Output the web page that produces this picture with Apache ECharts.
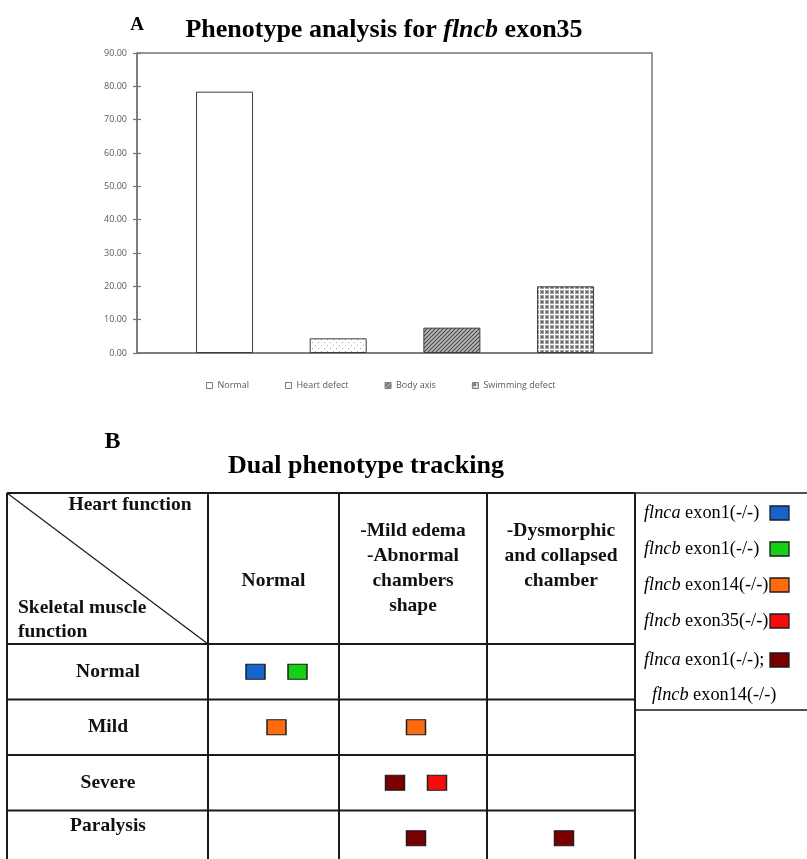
<!DOCTYPE html>
<html>
<head>
<meta charset="utf-8">
<script src="https://cdn.jsdelivr.net/npm/echarts@6/dist/echarts.min.js"></script>
<style>
  html, body { margin: 0; padding: 0; background: #ffffff; }
  #chart { width: 807px; height: 859px; }
</style>
</head>
<body>
<div id="chart"></div>
<script>
// ---- Panel A: phenotype distribution for flncb exon35 (percent of larvae) ----
const phenotypeNames = ['Normal', 'Heart defect', 'Body axis', 'Swimming defect'];
const phenotypePercent = [78.4, 4.4, 7.6, 20.0];
const percentAxis = { min: 0, max: 90, step: 10 };

// ---- Panel B: heart function vs skeletal muscle function per genotype ----
const heartLevels = ['Normal', '-Mild edema\n-Abnormal\nchambers\nshape', '-Dysmorphic\nand collapsed\nchamber'];
const muscleLevels = ['Normal', 'Mild', 'Severe', 'Paralysis'];
const genotypes = [
  'flnca exon1(-/-)',
  'flncb exon1(-/-)',
  'flncb exon14(-/-)',
  'flncb exon35(-/-)',
  'flnca exon1(-/-); flncb exon14(-/-)'
];
// each observation: [genotype index, heart level index, muscle level index]
const observations = [
  [0, 0, 0], [1, 0, 0],
  [2, 0, 1], [2, 1, 1],
  [4, 1, 2], [3, 1, 2],
  [4, 1, 3], [4, 2, 3]
];

// ---- styles ----
const genotypeColors = ['#1565cc', '#16cf16', '#ff6c10', '#f40c0c', '#780000'];
const serif = '"Liberation Serif", "Times New Roman", serif';
const sans = '"Open Sans", "Liberation Sans", sans-serif';
const frameColor = '#767676';
const ruleColor = '#1a1a1a';

function tile(w, h, paint) {
  const c = document.createElement('canvas');
  c.width = w; c.height = h;
  paint(c.getContext('2d'));
  return { image: c, repeat: 'repeat' };
}
const barFills = [
  '#ffffff',
  tile(6, 6, g => {
    g.fillStyle = '#ffffff'; g.fillRect(0, 0, 6, 6);
    g.fillStyle = '#a6a6a6'; g.fillRect(0, 0, 1, 1); g.fillRect(3, 3, 1, 1);
  }),
  tile(4, 4, g => {
    g.fillStyle = '#bdbdbd'; g.fillRect(0, 0, 4, 4);
    g.strokeStyle = '#4a4a4a'; g.lineWidth = 1.2; g.beginPath();
    g.moveTo(-1, 5); g.lineTo(5, -1);
    g.moveTo(3, 5); g.lineTo(5, 3);
    g.moveTo(-1, 1); g.lineTo(1, -1);
    g.stroke();
  }),
  tile(5, 5, g => {
    g.fillStyle = '#ffffff'; g.fillRect(0, 0, 5, 5);
    g.fillStyle = '#a4a4a4'; g.fillRect(0, 0, 4, 4);
    g.fillStyle = '#666666'; g.fillRect(1, 1, 2, 2);
  })
];

// ---- layout ----
const plot = { left: 137, top: 53, width: 515, height: 300 };
const barBand = { left: 167.7, width: 454.7 };
const table = { left: 7, top: 493, headH: 151, rowH: 55.5, labelW: 201, firstColW: 131, colW: 148, bottom: 880 };
const colX = [table.left, table.left + table.labelW];
colX.push(colX[1] + table.firstColW, colX[1] + table.firstColW + table.colW, colX[1] + table.firstColW + 2 * table.colW);
const bodyTop = table.top + table.headH;
const rowY = [table.top, bodyTop];
for (let i = 1; i < muscleLevels.length; i++) rowY.push(bodyTop + i * table.rowH);

// ---- series for panel A ----
const barSeries = phenotypeNames.map((name, i) => ({
  type: 'bar',
  name: name,
  xAxisIndex: 1,
  yAxisIndex: 2,
  stack: 'phenotype',
  barWidth: 57,
  silent: true,
  data: phenotypePercent.map((v, j) => (j === i ? v : '-')),
  itemStyle: { color: barFills[i], borderColor: '#3c3c3c', borderWidth: 1 }
}));

// ---- series for panel B: one scatter per genotype per table block ----
function cellSpread(o) {
  const mates = observations.filter(p => p[1] === o[1] && p[2] === o[2]);
  const k = mates.indexOf(o);
  return (k - (mates.length - 1) / 2) * 42 + 3;
}
const blocks = [[0], [1, 2]];
const tableSeries = [];
genotypes.forEach((g, gi) => {
  blocks.forEach((levels, b) => {
    const pts = observations.filter(o => o[0] === gi && levels.includes(o[1]));
    if (!pts.length) return;
    tableSeries.push({
      type: 'scatter',
      name: g,
      xAxisIndex: 2 + b,
      yAxisIndex: 3 + b,
      symbol: 'rect',
      symbolSize: [19, 15],
      silent: true,
      z: 5,
      itemStyle: { color: genotypeColors[gi], borderColor: '#1c1c1c', borderWidth: 1.3, opacity: 1 },
      data: pts.map(o => ({
        value: [heartLevels[o[1]], muscleLevels[o[2]]],
        symbolOffset: [cellSpread(o), 0]
      }))
    });
  });
});

// ---- genotype legend text ----
const legendRich = {
  i: { fontFamily: serif, fontSize: 18.3, fontStyle: 'italic', color: '#000', align: 'left' },
  r: { fontFamily: serif, fontSize: 18.3, color: '#000', align: 'left' },
  pad: { width: 8, fontFamily: serif, fontSize: 18.3, align: 'left' }
};
function geneLabel(part) {
  const sp = part.indexOf(' ');
  return '{i|' + part.slice(0, sp) + '}{r|' + part.slice(sp) + '}';
}

// ---- table rules ----
const rules = [];
colX.forEach(x => rules.push({ type: 'line', shape: { x1: x, y1: table.top, x2: x, y2: table.bottom } }));
rowY.forEach(y => rules.push({ type: 'line', shape: { x1: colX[0], y1: y, x2: colX[4], y2: y } }));
rules.push({ type: 'line', shape: { x1: colX[0], y1: table.top, x2: colX[1], y2: bodyTop } });
rules.forEach(r => { r.style = { stroke: ruleColor, lineWidth: r.shape.x1 !== r.shape.x2 && r.shape.y1 !== r.shape.y2 ? 1.2 : 2 }; r.silent = true; });

const headerFont = { fontFamily: serif, fontSize: 19.5, fontWeight: 'bold', fill: '#111' };

const option = {
  animation: false,
  backgroundColor: '#ffffff',
  grid: [
    { left: plot.left, top: plot.top, width: plot.width, height: plot.height, show: true, borderColor: frameColor, borderWidth: 1.5, containLabel: false, outerBoundsMode: 'none' },
    { left: barBand.left, top: plot.top, width: barBand.width, height: plot.height, containLabel: false, outerBoundsMode: 'none' },
    { left: colX[1], top: bodyTop, width: table.firstColW, height: table.rowH * muscleLevels.length, containLabel: false, outerBoundsMode: 'none' },
    { left: colX[2], top: bodyTop, width: 2 * table.colW, height: table.rowH * muscleLevels.length, containLabel: false, outerBoundsMode: 'none' }
  ],
  xAxis: [
    { gridIndex: 0, type: 'value', min: 0, max: 1, axisLine: { show: true, lineStyle: { color: frameColor, width: 1.5 } }, axisTick: { show: false }, axisLabel: { show: false }, splitLine: { show: false } },
    { gridIndex: 1, type: 'category', data: phenotypeNames, show: false },
    { gridIndex: 2, type: 'category', position: 'top', data: heartLevels.slice(0, 1) },
    { gridIndex: 3, type: 'category', position: 'top', data: heartLevels.slice(1) }
  ].map((ax, i) => i < 2 ? ax : Object.assign(ax, {
    axisLine: { show: false }, axisTick: { show: false }, splitLine: { show: false },
    axisLabel: {
      show: true, interval: 0, margin: 26, verticalAlign: 'bottom', align: 'center',
      fontFamily: serif, fontSize: 19.5, fontWeight: 'bold', color: '#111', lineHeight: 25,
      formatter: v => (v.split('\n').length < 4 ? v + '\n' : v)
    }
  })),
  yAxis: [
    {
      gridIndex: 0, type: 'value', min: percentAxis.min, max: percentAxis.max, interval: percentAxis.step, position: 'left',
      axisLine: { show: true, lineStyle: { color: frameColor, width: 1.5 } },
      axisTick: { show: true, length: 4, lineStyle: { color: frameColor, width: 1.2 } },
      axisLabel: { margin: 10, fontFamily: sans, fontSize: 9, color: '#595959', formatter: v => v.toFixed(2) },
      splitLine: { show: false }
    },
    {
      gridIndex: 0, type: 'value', min: percentAxis.min, max: percentAxis.max, interval: percentAxis.step, position: 'left',
      axisLine: { show: false }, axisLabel: { show: false }, splitLine: { show: false },
      axisTick: { show: true, inside: true, length: 4, lineStyle: { color: frameColor, width: 1.2 } }
    },
    { gridIndex: 1, type: 'value', min: percentAxis.min, max: percentAxis.max, show: false },
    {
      gridIndex: 2, type: 'category', inverse: true, data: muscleLevels,
      axisLine: { show: false }, axisTick: { show: false }, splitLine: { show: false },
      axisLabel: {
        show: true, interval: 0, margin: 100, align: 'center', verticalAlign: 'middle',
        fontFamily: serif, fontSize: 19.5, fontWeight: 'bold', color: '#111',
        formatter: (v, i) => (i === muscleLevels.length - 1 ? '{top|' + v + '}' : v),
        rich: { top: { fontFamily: serif, fontSize: 19.5, fontWeight: 'bold', color: '#111', padding: [0, 0, 24, 0] } }
      }
    },
    { gridIndex: 3, type: 'category', inverse: true, data: muscleLevels, show: false }
  ],
  legend: [
    {
      data: phenotypeNames, left: 206, top: 381, padding: 0, itemGap: 36,
      icon: 'rect', itemWidth: 6, itemHeight: 6, selectedMode: false,
      itemStyle: { borderColor: '#7a7a7a', borderWidth: 1 },
      textStyle: { fontFamily: sans, fontSize: 9, color: '#595959' }
    },
    {
      data: genotypes.slice(0, 4), orient: 'vertical', align: 'right', left: 644, top: 495, padding: 0, itemGap: 0,
      icon: 'rect', itemWidth: 19, itemHeight: 14, selectedMode: false,
      itemStyle: { borderColor: '#1c1c1c', borderWidth: 1.3 },
      textStyle: { fontFamily: serif, fontSize: 18.3, color: '#000', width: 121, lineHeight: 36, rich: legendRich },
      formatter: name => geneLabel(name)
    },
    {
      data: genotypes.slice(4), orient: 'vertical', align: 'right', left: 644, top: 607.5, padding: 0,
      icon: 'rect', itemWidth: 19, itemHeight: 14, selectedMode: false,
      itemStyle: { borderColor: '#1c1c1c', borderWidth: 1.3 },
      textStyle: { fontFamily: serif, fontSize: 18.3, color: '#000', width: 121, lineHeight: 35, rich: legendRich },
      formatter: name => {
        const parts = name.split('; ');
        return '{r| }\n' + geneLabel(parts[0]) + '{r|;}\n{pad| }' + geneLabel(parts[1]);
      }
    }
  ],
  graphic: [
    { type: 'text', silent: true, style: { text: 'A', x: 137, y: 25.5, align: 'center', verticalAlign: 'middle', fontFamily: serif, fontSize: 19, fontWeight: 'bold', fill: '#000' } },
    {
      type: 'text', silent: true,
      style: {
        text: '{b|Phenotype analysis for }{bi|flncb}{b| exon35}', x: 384, y: 30, align: 'center', verticalAlign: 'middle',
        fontFamily: serif, fontSize: 26, fontWeight: 'bold', fill: '#000',
        rich: {
          b: { fontFamily: serif, fontSize: 26, fontWeight: 'bold', fill: '#000' },
          bi: { fontFamily: serif, fontSize: 26, fontWeight: 'bold', fontStyle: 'italic', fill: '#000' }
        }
      }
    },
    { type: 'text', silent: true, style: { text: 'B', x: 112.5, y: 442, align: 'center', verticalAlign: 'middle', fontFamily: serif, fontSize: 24, fontWeight: 'bold', fill: '#000' } },
    { type: 'text', silent: true, style: { text: 'Dual phenotype tracking', x: 366, y: 466, align: 'center', verticalAlign: 'middle', fontFamily: serif, fontSize: 26, fontWeight: 'bold', fill: '#000' } },
    { type: 'group', silent: true, children: rules },
    { type: 'text', silent: true, style: Object.assign({ text: 'Heart function', x: 130, y: 505, align: 'center', verticalAlign: 'middle' }, headerFont) },
    { type: 'text', silent: true, style: Object.assign({ text: 'Skeletal muscle\nfunction', x: 18, y: 620, align: 'left', verticalAlign: 'middle', lineHeight: 23.3 }, headerFont) },
    { type: 'rect', silent: true, shape: { x: colX[4], y: table.top, width: 200, height: 217 }, style: { fill: 'none', stroke: ruleColor, lineWidth: 1.6 } }
  ],
  series: barSeries.concat(tableSeries)
};

const chart = echarts.init(document.getElementById('chart'), null, { renderer: 'canvas' });
chart.setOption(option);
</script>
</body>
</html>
